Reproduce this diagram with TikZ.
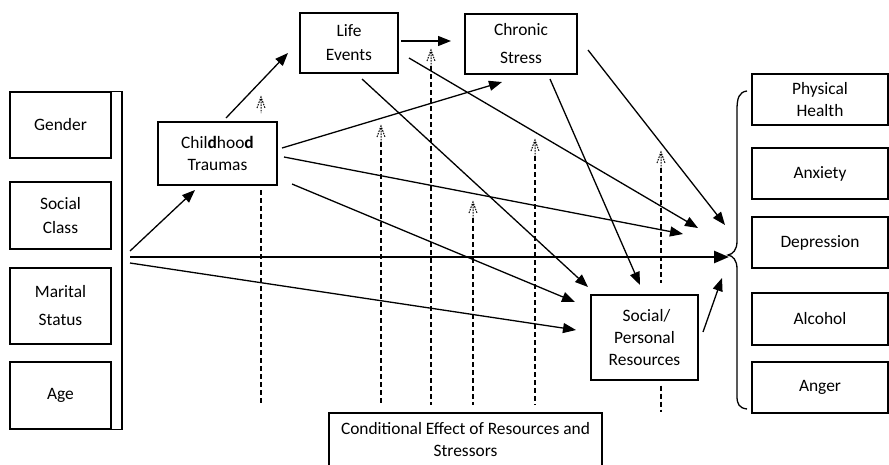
\documentclass[tikz,border=0pt]{standalone}
\usepackage{fontspec}
\setmainfont{Carlito}
\usetikzlibrary{arrows.meta,calc}

\begin{document}
\begin{tikzpicture}[x=1pt,y=-1pt,
  box/.style={draw, line width=1.3pt, align=center, inner sep=0pt,
    font=\fontsize{17.4}{24}\selectfont},
  tight/.style={font=\fontsize{17.4}{22}\selectfont},
  loose/.style={font=\fontsize{17.4}{28}\selectfont},
  link/.style={line width=1.3pt, -{Triangle[length=13pt,width=10pt]}},
  mainlink/.style={line width=2.6pt, -{Triangle[length=15pt,width=12pt]}},
  frame/.style={line width=1.3pt},
  cond/.style={line width=1.3pt, dash pattern=on 5pt off 3pt},
  ctip/.pic={\draw[line width=1pt, dash pattern=on 1.6pt off 1.1pt]
    (-4,11) -- (0,0) -- (4,11) (0,2) -- (0,16);}
]
\useasboundingbox (0,0) rectangle (889,464);
\fill[white] (0,0) rectangle (889,464);
\clip (0,0) rectangle (889,464);

% background variables
\node[box, minimum width=101, minimum height=66] (gender)  at (60.5,125)   {Gender};
\node[box, minimum width=101, minimum height=67] (class)   at (60.5,215.5) {Social\\Class};
\node[box, loose, minimum width=101, minimum height=76] (marital) at (60.5,306) {Marital\\Status};
\node[box, minimum width=101, minimum height=67] (age)     at (60.5,395.5) {Age};

% bracket grouping the background variables
\coordinate (brk) at (122,0);
\draw[frame] (gender.north east) -- (gender.north east -| brk)
  -- (age.south east -| brk) -- (age.south east);

% stressors and resources
\node[box, tight, minimum width=119, minimum height=63] (child) at (217.5,153.5) {Chil\textbf{d}hoo\textbf{d}\\Traumas};
\node[box, minimum width=98, minimum height=60] (life) at (349,43) {Life\\Events};
\node[box, loose, minimum width=112, minimum height=60] (chronic) at (521,44) {Chronic\\Stress};
\node[box, tight, minimum width=107, minimum height=85] (res) at (644.5,337.5) {\ Social/\\Personal\\Resources};

% outcomes
\node[box, tight, minimum width=136, minimum height=51] (phys) at (820,99.5)  {Physical\\Health};
\node[box, minimum width=136, minimum height=51] (anx)  at (820,173.5) {Anxiety};
\node[box, minimum width=136, minimum height=51] (dep)  at (820,242.5) {Depression};
\node[box, minimum width=136, minimum height=52] (alc)  at (820,319)   {Alcohol};
\node[box, minimum width=136, minimum height=51] (ang)  at (820,387.5) {Anger};

% brace collecting the outcomes
\draw[frame] (747,91) .. controls (739,92) and (737,98) .. (737,110)
  -- (737,241) .. controls (737,250) and (733,254) .. (728,255)
  .. controls (733,256) and (737,260) .. (737,269)
  -- (737,396) .. controls (737,404) and (739,408) .. (747,409);

% moderator box (runs off the lower edge)
\draw[frame] (329,480) -- (329,413) -- (602,413) -- (602,480);
\node[align=center, font=\fontsize{17.4}{22}\selectfont] (condtext) at (465.5,440)
  {Conditional Effect of Resources and\\Stressors};

% connector end points
\coordinate (bgA) at (130,251);
\coordinate (bgB) at (130,257);
\coordinate (bgC) at (130,263);
\coordinate (outMain) at (729,257);
\coordinate (chA) at (226,118);
\coordinate (chB) at (282,148);
\coordinate (chC) at (284,157);
\coordinate (chD) at (292,184);
\coordinate (leA) at (401,41);
\coordinate (leB) at (362,79);
\coordinate (leC) at (409,58);
\coordinate (csA) at (550,79);
\coordinate (csB) at (588,50);
\coordinate (rsA) at (703,332);
\coordinate (toChild) at (195,190);
\coordinate (toLife) at (288,53);
\coordinate (toChronic) at (451,41);
\coordinate (toChronicB) at (502,82);
\coordinate (toResA) at (576,330);
\coordinate (toResB) at (575,302);
\coordinate (toResC) at (588,287);
\coordinate (toResD) at (640,285);
\coordinate (toOutA) at (683,234);
\coordinate (toOutB) at (698,228);
\coordinate (toOutC) at (725,225);
\coordinate (toOutD) at (722,278);

% main effect
\draw[mainlink] (bgB) -- (outMain);

% paths
\draw[link] (bgA) -- (toChild);
\draw[link] (bgC) -- (toResA);
\draw[link] (chA) -- (toLife);
\draw[link] (leA) -- (toChronic);
\draw[link] (chB) -- (toChronicB);
\draw[link] (chC) -- (toOutA);
\draw[link] (chD) -- (toResB);
\draw[link] (leB) -- (toResC);
\draw[link] (leC) -- (toOutB);
\draw[link] (csA) -- (toResD);
\draw[link] (csB) -- (toOutC);
\draw[link] (rsA) -- (toOutD);

% conditional effects
\pic at (261,97) {ctip};
\draw[cond] (261,190) -- (261,405);
\foreach \xx/\yy in {381/126, 431/50, 473/202, 535/140} {
  \pic at (\xx,\yy) {ctip};
  \draw[cond] (\xx,\yy+16) -- (\xx,405);
}
\pic at (661,152) {ctip};
\draw[cond] (661,168) -- (661,283);
\draw[cond] (res.south -| 661,0) ++(0,5) -- (661,412);
\end{tikzpicture}
\end{document}
